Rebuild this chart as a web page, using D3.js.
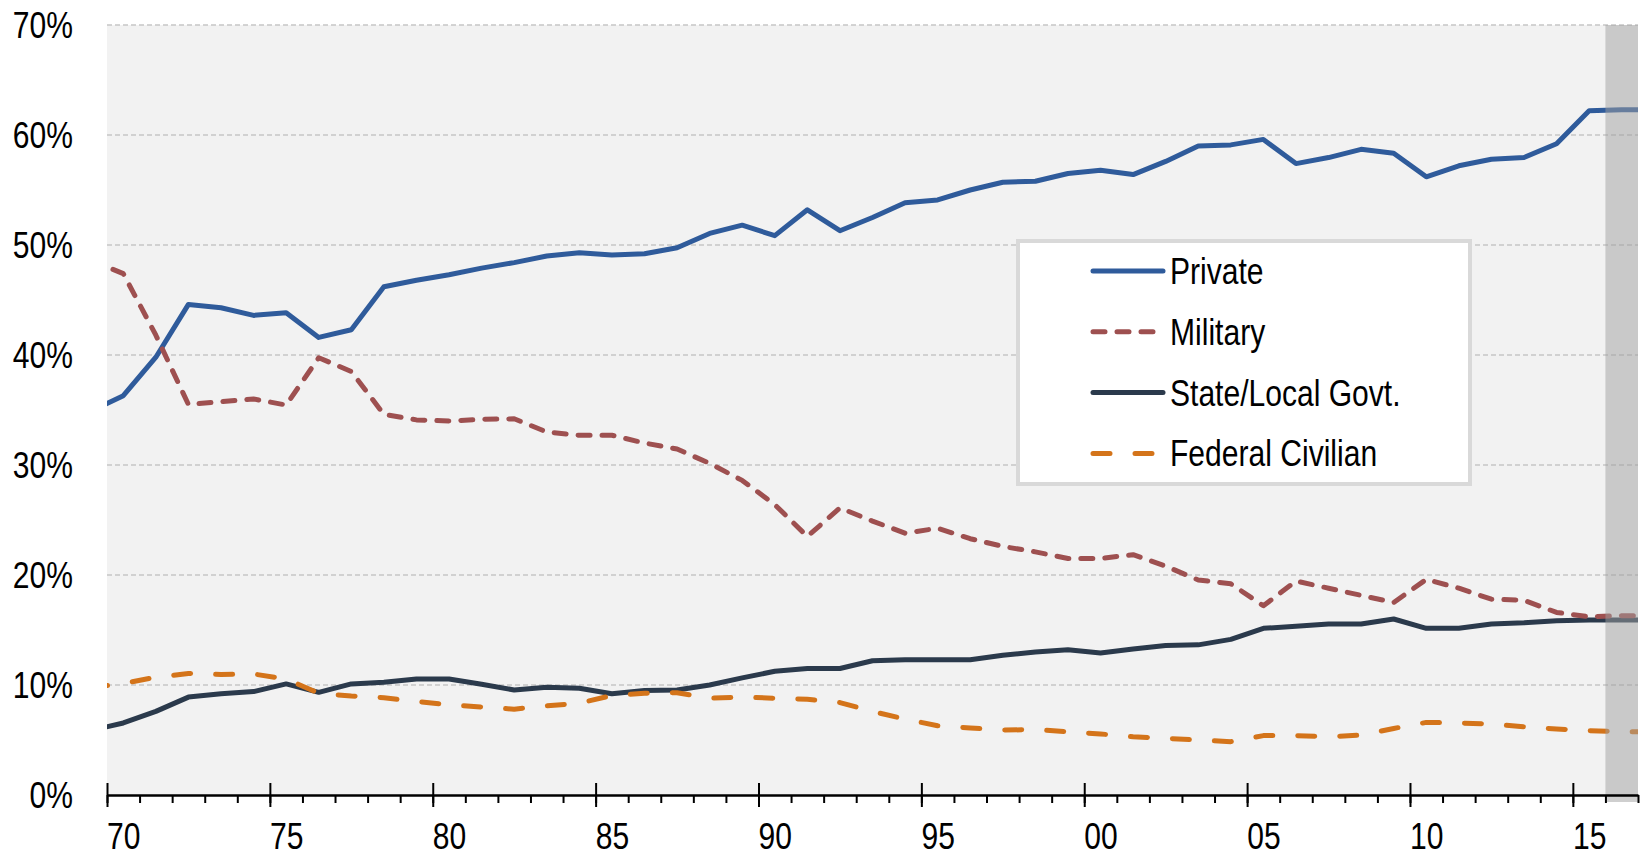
<!DOCTYPE html>
<html>
<head>
<meta charset="utf-8">
<script src="https://cdn.jsdelivr.net/npm/d3@7"></script>
<style>
  body { margin: 0; background: #fff; }
  text { font-family: "Liberation Sans Narrow", "Arial Narrow", "Liberation Sans", sans-serif; }
</style>
</head>
<body>
<script>
// ---------------- data (share of total, %) ----------------
// points sit at mid-year; 1969 and 2017 only run the lines out to the plot edges
let years = d3.range(1969, 2018)

let privateShare = [34.9, 36.3, 39.8, 44.6, 44.3, 43.6, 43.85, 41.6, 42.3, 46.2,
  46.8, 47.3, 47.9, 48.4, 49.0, 49.3, 49.1, 49.2, 49.75, 51.05,
  51.8, 50.85, 53.2, 51.3, 52.5, 53.85, 54.1, 55.0, 55.7, 55.8,
  56.5, 56.8, 56.4, 57.6, 59.0, 59.1, 59.6, 57.4, 57.95, 58.7,
  58.35, 56.2, 57.2, 57.8, 57.95, 59.2, 62.2, 62.3, 62.3]

let militaryShare = [48.6, 47.4, 41.8, 35.5, 35.75, 36.0, 35.45, 39.75, 38.5, 34.6,
  34.1, 34.0, 34.15, 34.2, 33.0, 32.7, 32.7, 32.0, 31.45, 30.15,
  28.6, 26.4, 23.5, 26.1, 24.9, 23.8, 24.25, 23.3, 22.6, 22.1,
  21.5, 21.5, 21.85, 20.8, 19.55, 19.2, 17.2, 19.45, 18.8, 18.15,
  17.5, 19.6, 18.8, 17.8, 17.7, 16.6, 16.2, 16.3, 16.3]

let stateLocalShare = [5.85, 6.55, 7.6, 8.9, 9.2, 9.4, 10.1, 9.33, 10.1, 10.25,
  10.55, 10.55, 10.06, 9.55, 9.8, 9.7, 9.2, 9.5, 9.55, 10.0,
  10.65, 11.25, 11.5, 11.5, 12.2, 12.3, 12.3, 12.3, 12.7, 13.0,
  13.2, 12.9, 13.27, 13.6, 13.65, 14.15, 15.15, 15.35, 15.55, 15.55,
  16.0, 15.15, 15.15, 15.55, 15.65, 15.85, 15.9, 15.9, 15.9]

let federalShare = [9.75, 10.15, 10.7, 11.05, 10.95, 11.0, 10.55, 9.25, 9.0, 8.85,
  8.5, 8.2, 8.0, 7.8, 8.1, 8.35, 9.05, 9.25, 9.3, 8.8,
  8.9, 8.8, 8.7, 8.4, 7.6, 6.9, 6.3, 6.1, 5.9, 5.95,
  5.75, 5.55, 5.3, 5.15, 5.0, 4.85, 5.4, 5.4, 5.3, 5.45,
  6.05, 6.6, 6.55, 6.45, 6.2, 6.0, 5.85, 5.75, 5.75]

let seriesNames = ["Private", "Military", "State/Local Govt.", "Federal Civilian"]
let yTicks = [0, 10, 20, 30, 40, 50, 60, 70]
let majorYears = d3.range(1970, 2016, 5)
let minorYears = d3.range(1970, 2018)
let shadeYears = [2016, 2017]

// ---------------- setup ----------------
let w = 1640
let h = 856
let plotLeft = 107, plotRight = 1638, plotTop = 25, plotBottom = 795
let narrow = "scale(0.835,1)"   // no narrow font installed, so squeeze the sans

let colors = ["#2f5b9b", "#9e5050", "#2b3a4c", "#d4741a"]
let dashes = ["none", "12,12", "none", "17,25"]
let drawOrder = [0, 2, 1, 3]

let x = d3.scaleLinear().domain([1970, 2017]).range([plotLeft, plotRight])
let y = d3.scaleLinear().domain([0, 70]).range([plotBottom, plotTop])

let series = [privateShare, militaryShare, stateLocalShare, federalShare]
  .map((vals, i) => ({ name: seriesNames[i], values: vals.map((v, j) => [years[j] + 0.5, v]) }))

let svg = d3.select("body")
  .append("svg")
  .attr("width", w)
  .attr("height", h)

svg.append("defs").append("clipPath")
  .attr("id", "plot")
  .append("rect")
  .attr("x", plotLeft).attr("y", 0)
  .attr("width", plotRight - plotLeft).attr("height", plotBottom)

// plot background
svg.append("rect")
  .attr("x", plotLeft).attr("y", plotTop)
  .attr("width", plotRight - plotLeft).attr("height", plotBottom - plotTop)
  .attr("fill", "#f2f2f2")

// gridlines
svg.selectAll(".grid")
  .data(yTicks.filter(d => d > 0))
  .enter()
  .append("line")
  .attr("x1", plotLeft).attr("x2", plotRight)
  .attr("y1", d => y(d)).attr("y2", d => y(d))
  .attr("stroke", "#c6c6c6")
  .attr("stroke-width", 1.5)
  .attr("stroke-dasharray", "5,3")

// y axis labels
let yAxis = svg.append("g")
  .attr("transform", `translate(${plotLeft},0)`)
  .call(d3.axisLeft(y).tickValues(yTicks).tickSize(0).tickPadding(34).tickFormat(d => d + "%"))
yAxis.select(".domain").remove()
yAxis.attr("font-family", null).attr("font-size", null)
yAxis.selectAll("text")
  .attr("x", 0)
  .attr("transform", "translate(-34,0) " + narrow)
  .attr("dy", "0.36em")
  .attr("font-size", "36px")
  .attr("fill", "#000")

// lines
let line = d3.line()
  .x(d => x(d[0]))
  .y(d => y(d[1]))

svg.append("g")
  .attr("clip-path", "url(#plot)")
  .selectAll("path")
  .data(drawOrder)
  .enter()
  .append("path")
  .attr("d", i => line(series[i].values))
  .attr("fill", "none")
  .attr("stroke", i => colors[i])
  .attr("stroke-width", 5)
  .attr("stroke-linejoin", "round")
  .attr("stroke-linecap", i => dashes[i] == "none" ? "butt" : "round")
  .attr("stroke-dasharray", i => dashes[i])

// shaded projection band, drawn over the lines
svg.append("rect")
  .attr("x", x(shadeYears[0]))
  .attr("y", plotTop)
  .attr("width", x(shadeYears[1]) - x(shadeYears[0]))
  .attr("height", plotBottom - plotTop + 7)
  .attr("fill", "#a0a0a0")
  .attr("opacity", 0.5)

// x axis: minor ticks every year, major ticks crossing the line every 5 years
let minorAxis = svg.append("g")
  .attr("transform", `translate(0,${plotBottom})`)
  .call(d3.axisBottom(x).tickValues(minorYears).tickSize(8).tickSizeOuter(0).tickFormat(""))
minorAxis.select(".domain").attr("stroke", "#000").attr("stroke-width", 2.5)
minorAxis.selectAll(".tick line").attr("stroke", "#000").attr("stroke-width", 2)

let majorAxis = svg.append("g")
  .attr("transform", `translate(0,${plotBottom})`)
  .call(d3.axisBottom(x).tickValues(majorYears).tickSize(12)
    .tickFormat(d => String(d % 100).padStart(2, "0")))
majorAxis.select(".domain").remove()
majorAxis.attr("font-family", null).attr("font-size", null)
majorAxis.selectAll(".tick line")
  .attr("y1", -12)
  .attr("stroke", "#000")
  .attr("stroke-width", 2)
majorAxis.selectAll("text")
  .attr("x", 0)
  .attr("y", 0)
  .attr("dy", 0)
  .attr("transform", `translate(${x(1970.5) - x(1970)},54) ` + narrow)
  .attr("font-size", "36px")
  .attr("fill", "#000")

// legend
let legend = svg.append("g")

legend.append("rect")
  .attr("x", 1018).attr("y", 241)
  .attr("width", 452).attr("height", 243)
  .attr("fill", "#fff")
  .attr("stroke", "#d9d9d9")
  .attr("stroke-width", 4)

let rows = legend.selectAll(".row")
  .data(seriesNames)
  .enter()
  .append("g")
  .attr("transform", (d, i) => `translate(1093,${271 + i * 60.8})`)

rows.append("line")
  .attr("x1", 0).attr("x2", 70)
  .attr("stroke", (d, i) => colors[i])
  .attr("stroke-width", 5)
  .attr("stroke-linecap", "round")
  .attr("stroke-dasharray", (d, i) => dashes[i])

rows.append("text")
  .text(d => d)
  .attr("transform", "translate(77,0) " + narrow)
  .attr("dy", "0.36em")
  .attr("font-size", "36px")
  .attr("fill", "#000")
</script>
</body>
</html>
